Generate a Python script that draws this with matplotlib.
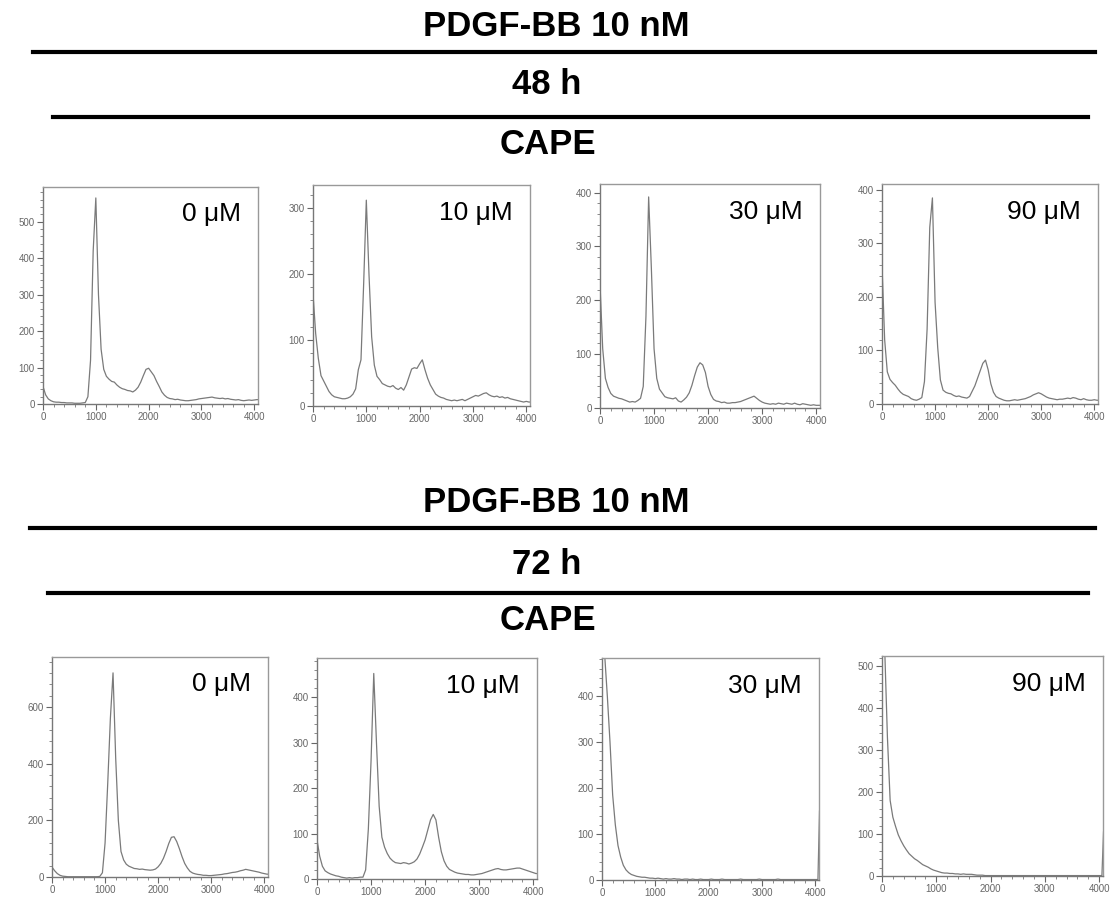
import matplotlib
matplotlib.use("Agg")
import matplotlib.pyplot as plt
from matplotlib.ticker import MultipleLocator
from matplotlib.lines import Line2D

# ---------------- data ----------------
# DNA-content channels (0..4050 step 50, plus the last channel)
channels = list(range(0, 4051, 50)) + [4080]

concentrations = ["0 \u03bcM", "10 \u03bcM", "30 \u03bcM", "90 \u03bcM"]
group_titles = ["PDGF-BB 10 nM", "PDGF-BB 10 nM"]
time_titles = ["48 h", "72 h"]
treatment = "CAPE"

# 48 h
h48_0uM = [48, 25, 14, 9, 6, 5, 5, 4, 4, 3,
           3, 3, 2, 2, 2, 3, 4, 20, 120, 420,
           565, 300, 150, 95, 76, 68, 62, 60, 52, 46,
           42, 40, 37, 36, 33, 38, 46, 60, 78, 95,
           98, 88, 78, 62, 48, 33, 24, 18, 15, 14,
           12, 13, 11, 10, 9, 9, 10, 11, 12, 14,
           15, 16, 17, 18, 19, 17, 16, 15, 16, 14,
           15, 13, 12, 11, 12, 10, 9, 10, 11, 10,
           11, 12, 12]
h48_10uM = [170, 110, 72, 46, 38, 30, 22, 17, 14, 13,
            12, 11, 11, 12, 14, 18, 26, 55, 70, 185,
            312, 200, 105, 62, 45, 40, 34, 32, 30, 29,
            31, 27, 25, 28, 24, 32, 44, 56, 58, 57,
            64, 70, 55, 42, 32, 25, 18, 15, 13, 12,
            10, 9, 8, 9, 8, 9, 10, 8, 10, 12,
            14, 16, 15, 17, 19, 20, 17, 15, 14, 15,
            13, 14, 12, 13, 11, 10, 9, 8, 7, 6,
            7, 6, 6]
h48_30uM = [230, 110, 55, 38, 27, 22, 20, 18, 17, 15,
            13, 11, 12, 11, 14, 18, 40, 170, 392, 260,
            110, 55, 35, 28, 21, 19, 18, 17, 19, 13,
            11, 15, 20, 28, 42, 60, 76, 84, 80, 66,
            40, 25, 16, 13, 12, 10, 11, 9, 9, 10,
            10, 11, 12, 14, 16, 18, 20, 22, 18, 14,
            11, 9, 8, 7, 8, 7, 9, 8, 7, 9,
            8, 7, 9, 7, 6, 8, 7, 6, 5, 6,
            5, 5, 5]
h48_90uM = [260, 120, 60, 46, 40, 35, 28, 22, 18, 16,
            14, 10, 8, 7, 9, 12, 42, 140, 330, 385,
            190, 105, 45, 26, 22, 20, 19, 16, 14, 15,
            13, 12, 11, 14, 24, 34, 48, 62, 76, 82,
            64, 38, 22, 14, 11, 9, 7, 6, 6, 7,
            8, 7, 8, 9, 10, 12, 14, 17, 19, 21,
            19, 16, 13, 11, 10, 9, 8, 9, 9, 10,
            11, 10, 12, 11, 9, 8, 10, 8, 7, 7,
            8, 7, 7]
# 72 h
h72_0uM = [35, 22, 12, 6, 3, 2, 1, 1, 1, 1,
           1, 1, 1, 1, 1, 1, 1, 1, 2, 15,
           120, 330, 560, 720, 420, 200, 90, 60, 45, 38,
           34, 30, 29, 27, 28, 26, 25, 24, 25, 28,
           36, 48, 66, 90, 118, 140, 142, 125, 100, 72,
           48, 32, 20, 14, 11, 9, 8, 6, 6, 5,
           5, 6, 7, 8, 9, 11, 12, 14, 16, 17,
           19, 22, 24, 27, 25, 23, 21, 19, 17, 14,
           12, 10, 10]
h72_10uM = [86, 50, 28, 18, 14, 11, 9, 7, 6, 4,
            3, 2, 3, 2, 3, 3, 4, 4, 20, 110,
            260, 452, 300, 160, 92, 70, 56, 46, 40, 36,
            35, 34, 36, 35, 33, 35, 38, 44, 55, 70,
            86, 108, 130, 142, 130, 92, 60, 40, 28, 21,
            18, 15, 13, 12, 11, 10, 10, 9, 9, 10,
            11, 12, 14, 16, 18, 20, 22, 23, 21, 20,
            20, 21, 22, 23, 24, 24, 22, 20, 18, 16,
            14, 12, 12]
h72_30uM = [620, 490, 400, 300, 185, 120, 75, 50, 32, 22,
            16, 12, 10, 8, 7, 6, 6, 5, 4, 4,
            3, 4, 3, 2, 3, 2, 2, 3, 2, 2,
            1, 2, 2, 1, 2, 1, 1, 2, 1, 1,
            1, 2, 1, 1, 1, 2, 1, 1, 1, 1,
            1, 1, 2, 1, 1, 1, 1, 1, 1, 2,
            1, 1, 1, 1, 1, 1, 2, 1, 1, 1,
            1, 1, 1, 1, 1, 1, 1, 1, 1, 1,
            1, 1, 150]
h72_90uM = [560, 540, 330, 180, 140, 118, 98, 84, 72, 62,
            53, 47, 41, 37, 32, 27, 24, 21, 17, 14,
            12, 10, 8, 7, 7, 6, 6, 5, 5, 4,
            5, 4, 4, 4, 3, 2, 2, 2, 1, 1,
            1, 1, 1, 1, 1, 1, 1, 1, 1, 1,
            1, 1, 1, 1, 1, 1, 1, 1, 1, 1,
            1, 1, 1, 1, 1, 1, 1, 1, 1, 1,
            1, 1, 1, 1, 1, 1, 1, 1, 1, 1,
            1, 1, 105]

series = [h48_0uM, h48_10uM, h48_30uM, h48_90uM,
          h72_0uM, h72_10uM, h72_30uM, h72_90uM]
ymax = [595, 335, 416, 411, 776, 486, 483, 524]
ymajor = [100, 100, 100, 100, 200, 100, 100, 100]

# ---------------- layout (pixels) ----------------
W, H = 1110, 900
boxes = [(43, 187, 258, 404), (313, 185, 530, 406), (600, 184, 820, 408), (882, 184, 1098, 404),
         (52, 657, 268, 877), (317, 658, 537, 879), (602, 658, 819, 880), (882, 656, 1103, 876)]

fig = plt.figure(figsize=(W / 100, H / 100), dpi=100)
fig.patch.set_facecolor("white")

title_font = dict(family=["Liberation Sans", "DejaVu Sans"], fontweight="bold",
                  fontsize=25, color="black", ha="center", va="center")

def fx(px):
    return px / W

def fy(py):
    return 1 - py / H

headers = [
    # (title, y, line1 y, x0, x1, time text, y, line2 y, x0, x1, treatment y)
    (group_titles[0], 26, 52, 33, 1095, time_titles[0], 85, 117, 53, 1088, 145),
    (group_titles[1], 503, 528, 30, 1095, time_titles[1], 565, 593, 48, 1088, 620),
]
for (t1, y1, l1, a1, b1, t2, y2, l2, a2, b2, y3) in headers:
    fig.text(fx(556), fy(y1), t1, **title_font)
    fig.add_artist(Line2D([fx(a1), fx(b1)], [fy(l1), fy(l1)], color="black", lw=3.0,
                          transform=fig.transFigure))
    fig.text(fx(547), fy(y2), t2, **title_font)
    fig.add_artist(Line2D([fx(a2), fx(b2)], [fy(l2), fy(l2)], color="black", lw=3.0,
                          transform=fig.transFigure))
    fig.text(fx(548), fy(y3), treatment, **title_font)

for i, (box, ys) in enumerate(zip(boxes, series)):
    l, t, r, b = box
    ax = fig.add_axes([fx(l), fy(b), (r - l) / W, (b - t) / H])
    ax.plot(channels, ys, color="#7a7a7a", lw=0.9, clip_on=True)
    ax.set_xlim(0, 4070)
    ax.set_ylim(0, ymax[i])
    ax.xaxis.set_major_locator(MultipleLocator(1000))
    ax.xaxis.set_minor_locator(MultipleLocator(200))
    ax.yaxis.set_major_locator(MultipleLocator(ymajor[i]))
    ax.yaxis.set_minor_locator(MultipleLocator(ymajor[i] / 5))
    ax.tick_params(which="major", direction="out", length=4, width=0.8, color="#666",
                   labelsize=7, labelcolor="#666", pad=2)
    ax.tick_params(which="minor", direction="out", length=2, width=0.6, color="#777")
    ax.tick_params(top=False, right=False)
    for lab in ax.get_xticklabels() + ax.get_yticklabels():
        lab.set_family(["Liberation Sans", "DejaVu Sans"])
    for side, sp in ax.spines.items():
        sp.set_color("#777" if side in ("left", "bottom") else "#999")
        sp.set_linewidth(1.0)
    ax.text(0.92, 0.875, concentrations[i % 4], transform=ax.transAxes, ha="right", va="center",
            fontsize=19, family=["Liberation Sans", "DejaVu Sans"], color="black")

fig.savefig("out.png", dpi=100, facecolor="white")
